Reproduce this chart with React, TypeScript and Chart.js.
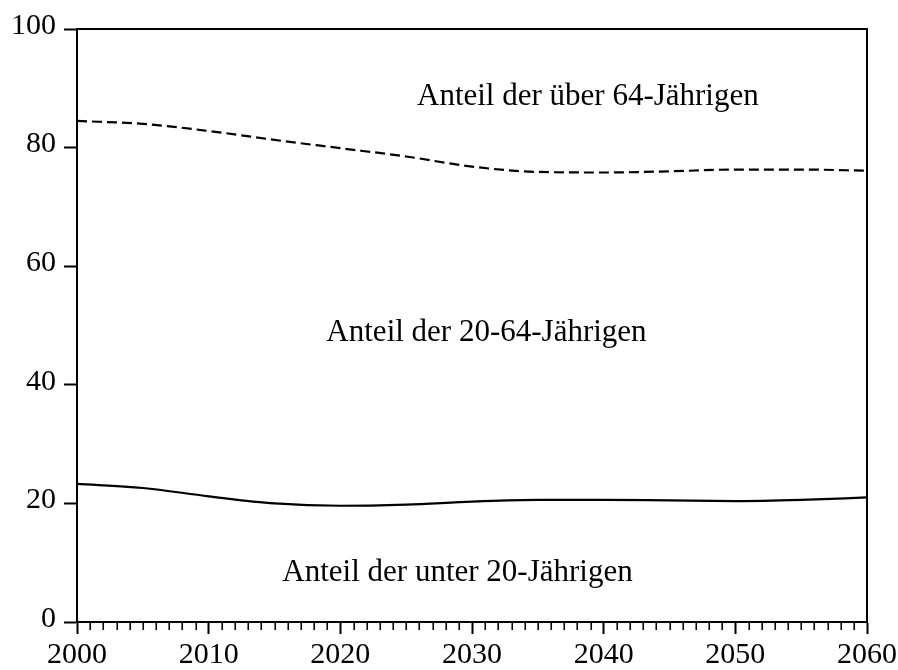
import React, { useEffect, useRef } from "react";
import { Chart, registerables } from "chart.js";

Chart.register(...registerables);

const years = [2000, 2005, 2010, 2015, 2020, 2025, 2030, 2035, 2040, 2045, 2050, 2055, 2060];
// boundary: share of under-20 (cumulative)
const under20 = [23.3, 22.6, 21.2, 20.0, 19.6, 19.8, 20.3, 20.6, 20.6, 20.5, 20.4, 20.6, 21.0];
// boundary: cumulative share up to 64 years (under-20 + 20-64)
const upTo64 = [84.5, 84.0, 82.8, 81.3, 79.9, 78.5, 76.8, 75.9, 75.8, 76.0, 76.3, 76.3, 76.1];

const yTicks = [0, 20, 40, 60, 80, 100];
const xMajorTicks = [2000, 2010, 2020, 2030, 2040, 2050, 2060];

const labelTexts = ["Anteil der über 64-Jährigen", "Anteil der 20-64-Jährigen", "Anteil der unter 20-Jährigen"];
const labelX = [2038.8, 2031.1, 2028.9];
const labelY = [88.5, 48.7, 8.3];

const FONT = "'Liberation Serif', 'Times New Roman', serif";

export default function App() {
  const ref = useRef<HTMLCanvasElement | null>(null);

  useEffect(() => {
    const canvas = ref.current;
    if (!canvas) return;

    const framePlugin = {
      id: "frame",
      afterDraw(chart: any) {
        const { ctx, chartArea } = chart;
        const xs = chart.scales.x;
        ctx.save();
        ctx.strokeStyle = "#000";
        // frame top and right
        ctx.lineWidth = 2;
        ctx.beginPath();
        ctx.moveTo(chartArea.left, chartArea.top);
        ctx.lineTo(chartArea.right, chartArea.top);
        ctx.lineTo(chartArea.right, chartArea.bottom);
        ctx.stroke();
        // minor ticks every year
        ctx.lineWidth = 1.6;
        for (let yr = 2000; yr <= 2060; yr++) {
          if (yr % 10 === 0) continue;
          const px = Math.round(xs.getPixelForValue(yr)) + 0.25;
          ctx.beginPath();
          ctx.moveTo(px, chartArea.bottom);
          ctx.lineTo(px, chartArea.bottom + 8);
          ctx.stroke();
        }
        // text labels
        ctx.fillStyle = "#000";
        ctx.font = `31px ${FONT}`;
        ctx.textAlign = "center";
        ctx.textBaseline = "middle";
        const ys = chart.scales.y;
        labelTexts.forEach((t, i) => {
          ctx.fillText(t, xs.getPixelForValue(labelX[i]), ys.getPixelForValue(labelY[i]));
        });
        ctx.restore();
      },
    };

    const chart = new Chart(canvas, {
      type: "line",
      data: {
        datasets: [
          {
            label: "Anteil der unter 20-Jährigen",
            data: years.map((y, i) => ({ x: y, y: under20[i] })),
            borderColor: "#000",
            borderWidth: 2.2,
            pointRadius: 0,
            fill: false,
            cubicInterpolationMode: "monotone",
          },
          {
            label: "Anteil der über 64-Jährigen",
            data: years.map((y, i) => ({ x: y, y: upTo64[i] })),
            borderColor: "#000",
            borderWidth: 2.2,
            borderDash: [10, 5],
            pointRadius: 0,
            fill: false,
            cubicInterpolationMode: "monotone",
          },
        ],
      },
      options: {
        responsive: false,
        animation: false,
        layout: { padding: { left: 0, top: 29, right: 31, bottom: 0 } },
        plugins: {
          legend: { display: false },
          tooltip: { enabled: false },
        },
        scales: {
          x: {
            type: "linear",
            min: 2000,
            max: 2060,
            afterFit: (s: any) => {
              s.height = 48;
              s.paddingLeft = 0;
              s.paddingRight = 0;
            },
            afterBuildTicks: (s: any) => {
              s.ticks = xMajorTicks.map((v) => ({ value: v }));
            },
            ticks: {
              color: "#000",
              font: { family: FONT, size: 30 },
              padding: 3,
              maxRotation: 0,
              autoSkip: false,
              callback: (v: any) => String(v),
            },
            grid: {
              drawOnChartArea: false,
              drawTicks: true,
              tickLength: 12,
              tickWidth: 2,
              tickColor: "#000",
            },
            border: { display: true, color: "#000", width: 2 },
          },
          y: {
            type: "linear",
            min: 0,
            max: 100,
            afterFit: (s: any) => {
              s.width = 77;
              s.paddingTop = 0;
              s.paddingBottom = 0;
            },
            afterBuildTicks: (s: any) => {
              s.ticks = yTicks.map((v) => ({ value: v }));
            },
            ticks: {
              color: "#000",
              font: { family: FONT, size: 30 },
              padding: 8,
              labelOffset: -3,
              callback: (v: any) => String(v),
            },
            grid: {
              drawOnChartArea: false,
              drawTicks: true,
              tickLength: 13,
              tickWidth: 2,
              tickColor: "#000",
            },
            border: { display: true, color: "#000", width: 2 },
          },
        },
      },
      plugins: [framePlugin],
    } as any);

    return () => chart.destroy();
  }, []);

  return (
    <div style={{ position: "fixed", left: 0, top: 0, width: 898, height: 670, background: "#fff" }}>
      <canvas ref={ref} width={898} height={670} style={{ display: "block" }} />
    </div>
  );
}
